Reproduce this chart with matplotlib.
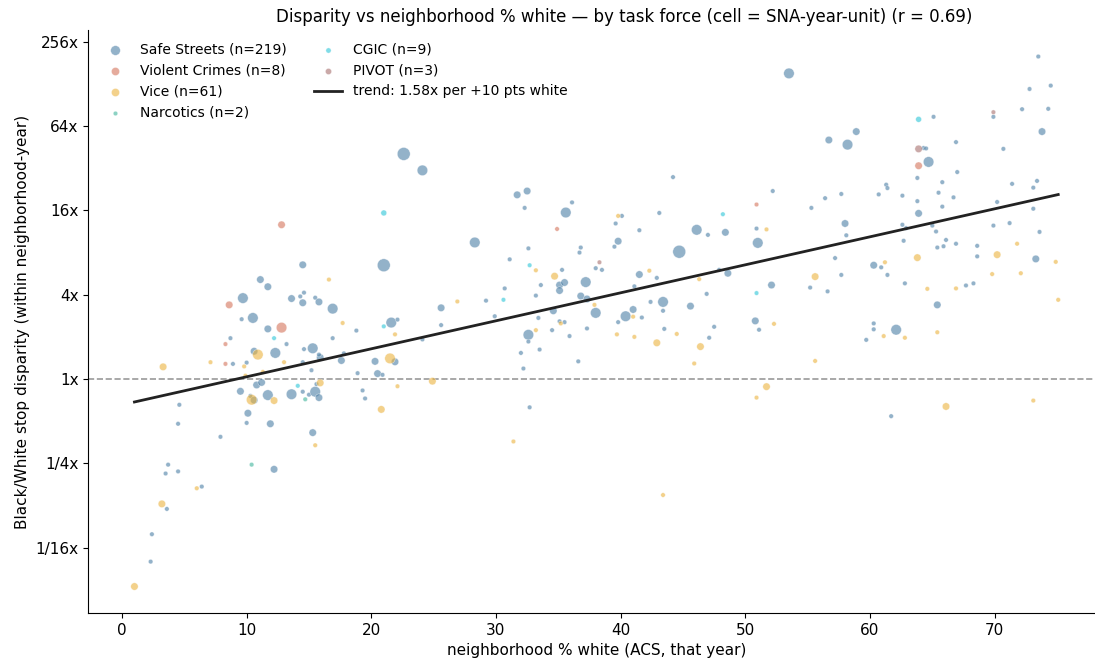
import numpy as np
import matplotlib
matplotlib.use("Agg")
import matplotlib.pyplot as plt

# (pct white, log2 disparity, stops in cell) per task force
safe_streets = [
    (4.6, -0.61, 30), (4.5, -1.06, 30), (7.9, -1.37, 30), (3.7, -2.03, 30), (3.5, -2.24, 30),
    (4.5, -2.19, 30), (6.4, -2.55, 30), (3.6, -3.08, 30), (2.4, -3.68, 30), (2.3, -4.33, 30),
    (9.5, -0.29, 80), (10.3, -0.40, 30), (10.6, -0.50, 80), (10.8, -0.14, 80), (11.2, -0.08, 80),
    (11.7, -0.38, 160), (13.6, -0.36, 160), (14.5, -0.30, 30), (15.0, -0.37, 30), (15.5, -0.30, 160),
    (15.6, -0.12, 30), (15.8, -0.44, 80), (10.1, -0.81, 80), (10.0, -1.04, 30), (11.9, -1.06, 80),
    (15.3, -1.27, 80), (12.2, -2.14, 80), (19.3, -0.27, 30), (19.5, -0.46, 30), (8.9, 0.36, 30),
    (8.7, 0.97, 30), (9.6, 1.42, 30), (9.7, 1.92, 160), (10.5, 1.45, 160), (11.1, 2.36, 80),
    (11.7, 2.19, 80), (11.7, 1.19, 80), (13.2, 0.83, 30), (10.6, 0.66, 80), (12.3, 0.62, 160),
    (10.0, 0.39, 30), (14.5, 2.71, 80), (13.6, 1.91, 80), (14.3, 1.96, 30), (14.6, 2.05, 30),
    (14.5, 1.81, 80), (15.5, 1.93, 30), (15.8, 1.83, 80), (16.9, 1.67, 160), (16.9, 0.97, 30),
    (14.6, 0.71, 30), (15.3, 0.73, 160), (15.9, 0.51, 80), (15.8, 0.58, 30), (17.6, 0.44, 80),
    (14.5, 0.40, 30), (15.2, 0.21, 30), (18.8, 1.15, 30), (17.8, 0.61, 30), (18.9, 0.14, 30),
    (22.6, 5.34, 240), (24.1, 4.95, 160), (21.0, 2.70, 240), (28.3, 3.24, 160), (31.7, 4.37, 80),
    (32.5, 4.46, 80), (32.3, 4.06, 30), (36.1, 4.19, 30), (35.6, 3.95, 160), (32.6, 3.10, 30),
    (31.1, 2.84, 30), (36.8, 3.12, 30), (36.7, 3.00, 30), (33.6, 2.23, 30), (35.1, 2.23, 80),
    (35.5, 2.29, 80), (35.1, 2.10, 80), (37.2, 2.30, 160), (38.0, 2.63, 30), (38.5, 2.59, 30),
    (33.2, 1.98, 30), (36.8, 1.97, 80), (37.3, 1.90, 80), (38.0, 1.57, 160), (39.6, 3.69, 30),
    (39.5, 3.14, 30), (39.8, 3.27, 80), (29.2, 1.86, 30), (25.6, 1.69, 80), (25.6, 1.28, 30),
    (24.1, 0.94, 30), (29.9, 1.49, 30), (21.6, 1.34, 160), (22.1, 1.41, 30), (20.3, 0.42, 80),
    (21.9, 0.41, 80), (20.5, 0.13, 80), (20.9, 0.10, 30), (32.6, 1.05, 160), (32.6, 0.89, 30),
    (33.5, 0.70, 30), (32.0, 0.62, 30), (32.2, 0.25, 30), (32.7, -0.67, 30), (33.4, 1.45, 30),
    (34.5, 1.16, 30), (35.1, 1.37, 30), (35.5, 1.35, 30), (35.9, 1.02, 30), (36.6, 0.42, 30),
    (37.3, 1.20, 30), (39.8, 1.35, 30), (40.1, 3.87, 30), (41.5, 3.53, 30), (35.3, 2.59, 30),
    (41.5, 2.48, 80), (41.1, 2.20, 30), (30.7, 2.15, 30), (34.6, 1.62, 80), (41.0, 1.65, 80),
    (40.4, 1.49, 160), (41.7, 1.46, 30),
    (73.5, 7.65, 30), (53.5, 7.25, 160), (74.5, 6.96, 30), (72.8, 6.88, 30), (72.2, 6.40, 30),
    (74.3, 6.41, 30), (69.9, 6.22, 30), (65.1, 6.22, 30), (73.8, 5.87, 80), (58.9, 5.87, 80),
    (56.7, 5.67, 80), (58.2, 5.56, 160), (64.3, 5.48, 30), (64.5, 5.47, 30), (66.9, 5.62, 30),
    (70.7, 5.46, 30), (64.7, 5.15, 160), (67.0, 4.91, 30), (44.2, 4.79, 30), (63.8, 4.77, 30),
    (61.3, 4.61, 30), (61.4, 4.53, 30), (65.8, 4.67, 30), (71.4, 4.63, 30), (73.4, 4.70, 30),
    (73.1, 4.54, 30), (52.2, 4.46, 30), (60.7, 4.38, 30), (62.6, 4.35, 30), (65.5, 4.42, 30),
    (66.7, 4.31, 30), (57.7, 4.39, 30), (56.4, 4.29, 30), (63.8, 4.22, 30), (55.3, 4.06, 30),
    (70.2, 4.20, 30), (65.8, 4.09, 30), (63.9, 3.93, 80), (73.1, 4.04, 30), (43.1, 3.94, 30),
    (46.1, 3.54, 160), (47.0, 3.42, 30), (48.4, 3.48, 80), (50.9, 3.57, 30), (44.7, 3.02, 240),
    (51.0, 3.23, 160), (58.0, 3.69, 80), (58.1, 3.41, 30), (62.6, 3.66, 30), (62.9, 3.58, 30),
    (65.0, 3.64, 30), (65.3, 3.50, 30), (62.7, 3.28, 30), (66.1, 3.30, 30), (65.4, 3.12, 30),
    (65.9, 3.15, 30), (66.9, 3.21, 30), (68.6, 3.16, 30), (69.9, 3.64, 30), (71.2, 3.70, 30),
    (73.6, 3.49, 30), (68.6, 2.91, 30), (73.3, 2.85, 80), (60.3, 2.70, 80), (60.9, 2.65, 30),
    (61.4, 2.47, 30), (57.2, 2.87, 30), (57.7, 2.47, 30), (62.8, 2.27, 30), (67.7, 2.22, 30),
    (68.3, 2.27, 30), (65.4, 1.76, 80), (55.2, 2.17, 30), (56.6, 2.08, 30), (42.9, 2.40, 30),
    (47.9, 2.59, 30), (48.6, 2.51, 80), (46.9, 2.02, 30), (52.1, 2.23, 80), (50.8, 1.38, 80),
    (43.4, 1.83, 160), (45.6, 1.73, 80), (42.4, 1.83, 30), (43.4, 1.62, 30), (47.5, 1.24, 30),
    (60.3, 1.32, 30), (60.3, 1.18, 30), (62.1, 1.17, 160), (59.7, 0.93, 30), (43.5, 1.19, 30),
    (47.1, 0.98, 30), (51.1, 1.17, 30), (61.7, -0.88, 30),
]

violent_crimes = [
    (8.6, 1.76, 80), (8.3, 0.83, 30), (8.3, 0.36, 30), (12.8, 1.22, 160),
    (12.8, 3.66, 80), (34.9, 3.56, 30), (50.9, 4.14, 30), (63.9, 5.06, 80),
]

vice = [
    (1.0, -4.92, 80), (3.2, -2.96, 80), (6.0, -2.59, 30), (3.3, 0.29, 80), (7.1, 0.40, 30),
    (9.8, 0.30, 30), (9.9, 0.08, 30), (13.0, 0.40, 30), (10.4, -0.49, 160), (12.2, -0.51, 80),
    (10.9, 0.58, 160), (11.3, 0.17, 30), (15.9, -0.09, 80), (15.5, -1.57, 30), (16.6, 2.36, 30),
    (17.7, 1.33, 30), (20.8, -0.72, 80), (21.5, 0.49, 160), (21.9, 1.06, 30), (22.1, -0.17, 30),
    (24.9, -0.05, 80), (26.9, 1.84, 30), (31.4, -1.48, 30), (33.2, 2.58, 30), (34.7, 2.44, 80),
    (33.2, 1.16, 30), (35.2, 1.32, 30), (37.9, 1.76, 30), (39.8, 3.87, 30), (39.7, 1.06, 30),
    (41.0, 1.48, 30), (41.1, 1.00, 30), (42.3, 2.57, 30), (42.9, 0.86, 80), (44.5, 1.07, 30),
    (46.3, 2.37, 30), (46.4, 0.77, 80), (45.9, 0.37, 30), (43.4, -2.75, 30), (51.7, 3.55, 30),
    (52.3, 1.31, 30), (51.7, -0.18, 80), (50.9, -0.44, 30), (55.6, 2.43, 80), (55.6, 0.43, 30),
    (61.2, 2.77, 30), (61.1, 1.02, 30), (62.8, 0.98, 30), (63.8, 2.88, 80), (64.6, 2.14, 30),
    (65.4, 1.11, 30), (66.9, 2.15, 30), (66.1, -0.65, 80), (69.8, 2.49, 30), (70.2, 2.95, 80),
    (71.8, 3.21, 30), (72.1, 2.51, 30), (74.9, 2.78, 30), (75.1, 1.88, 30), (73.1, -0.51, 30),
]

narcotics = [(14.7, -0.48, 30), (10.4, -2.03, 30)]

cgic = [
    (12.2, 0.97, 30), (14.1, -0.16, 30), (21.0, 3.94, 50), (21.0, 1.25, 30), (30.6, 1.88, 30),
    (32.7, 2.70, 30), (48.2, 3.91, 30), (50.9, 2.04, 30), (63.9, 6.16, 50),
]

pivot = [(38.3, 2.77, 30), (69.9, 6.33, 30), (63.9, 5.46, 80)]

groups = ["Safe Streets", "Violent Crimes", "Vice", "Narcotics", "CGIC", "PIVOT"]
group_n = [219, 8, 61, 2, 9, 3]
group_data = [safe_streets, violent_crimes, vice, narcotics, cgic, pivot]
colors = ["#4C7FA6", "#D4735A", "#EBB33E", "#3FB59C", "#2CC6D8", "#A8706E"]

# fitted trend (log2 disparity vs pct white)
trend_slope = 0.0664
trend_intercept = -0.61
r_value = 0.69

ytick_vals = [-4, -2, 0, 2, 4, 6, 8]
ytick_labels = ["1/16x", "1/4x", "1x", "4x", "16x", "64x", "256x"]

plt.rcParams["font.size"] = 11

fig = plt.figure(figsize=(10.95, 6.6), dpi=100)
ax = fig.add_axes([0.0806, 0.0712, 0.928, 0.8833])

for name, n, data, c in zip(groups, group_n, group_data, colors):
    arr = np.array(data)
    ax.scatter(arr[:, 0], arr[:, 1], s=arr[:, 2] * 0.36, color=c, alpha=0.6,
               edgecolors="white", linewidths=0.4, label=f"{name} (n={n})")

all_x = np.concatenate([np.array(d)[:, 0] for d in group_data])
xs = np.array([all_x.min(), all_x.max()])
ax.plot(xs, trend_intercept + trend_slope * xs, color="#222222", lw=2,
        label=f"trend: {2 ** (trend_slope * 10):.2f}x per +10 pts white")

ax.axhline(0, color="#999999", ls="--", lw=1.2, zorder=0)

ax.set_yticks(ytick_vals)
ax.set_yticklabels(ytick_labels)
ax.set_xlabel("neighborhood % white (ACS, that year)")
ax.set_ylabel("Black/White stop disparity (within neighborhood-year)")
ax.set_title(f"Disparity vs neighborhood % white \u2014 by task force "
             f"(cell = SNA-year-unit) (r = {r_value:.2f})", fontsize=12, x=0.527)
ax.spines["top"].set_visible(False)
ax.spines["right"].set_visible(False)
ax.legend(loc="upper left", ncol=2, frameon=False, fontsize=10)

fig.savefig("out.png", dpi=100)
